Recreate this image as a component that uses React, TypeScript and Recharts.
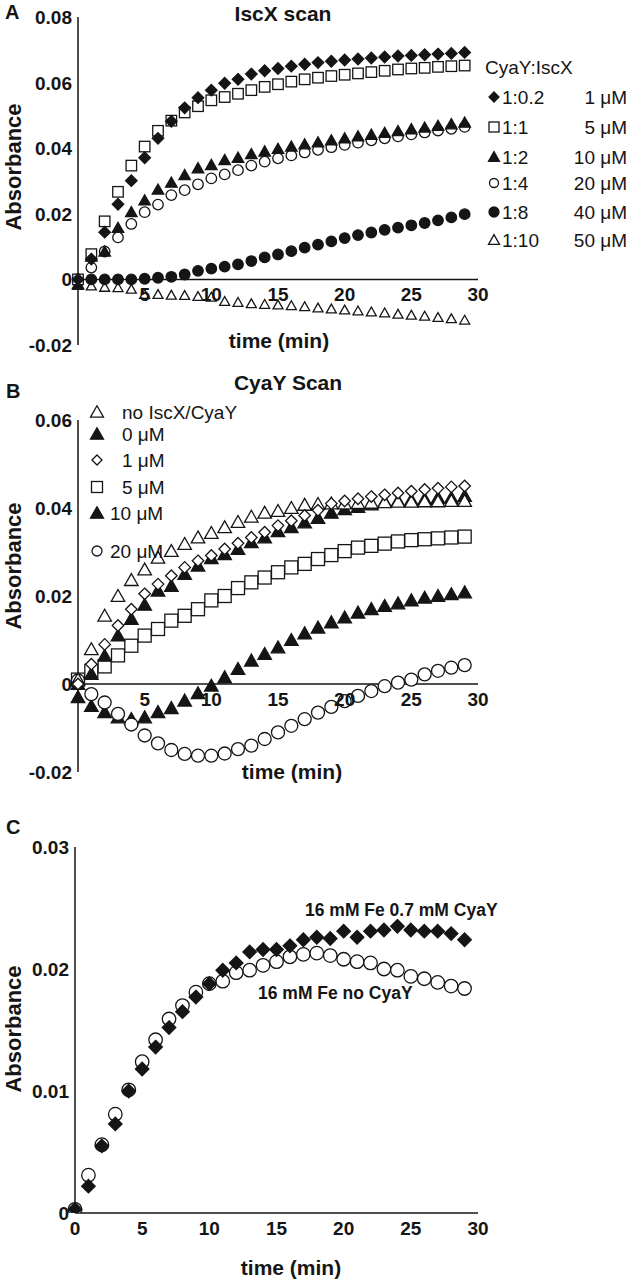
import React from "react";
import { ScatterChart, Scatter, XAxis, YAxis, ReferenceLine } from "recharts";

const FONT = "'Liberation Sans', Arial, Helvetica, sans-serif";
const INK = "#151515";

const minutes = [0, 1, 2, 3, 4, 5, 6, 7, 8, 9, 10, 11, 12, 13, 14, 15, 16, 17, 18, 19, 20, 21, 22, 23, 24, 25, 26, 27, 28, 29];

// ---- A: IscX scan ----
const aTicksY = [-0.02, 0, 0.02, 0.04, 0.06, 0.08];
const abTicksX = [5, 10, 15, 20, 25, 30];
const aRatio02 = [0, 0.0062, 0.0144, 0.0229, 0.0301, 0.0371, 0.043, 0.0482, 0.0523, 0.0554, 0.0577, 0.0598, 0.061, 0.0626, 0.0636, 0.0643, 0.065, 0.0656, 0.0661, 0.0665, 0.0669, 0.0672, 0.0675, 0.0678, 0.0681, 0.0683, 0.0685, 0.0687, 0.0689, 0.0692];
const aRatio1 = [0, 0.0077, 0.0177, 0.0267, 0.0347, 0.0405, 0.0453, 0.0484, 0.0509, 0.0528, 0.0546, 0.0556, 0.0566, 0.0577, 0.0587, 0.0595, 0.0603, 0.061, 0.0615, 0.062, 0.0624, 0.0628, 0.0632, 0.0636, 0.064, 0.0643, 0.0645, 0.0648, 0.065, 0.0652];
const aRatio2 = [-0.0015, 0.007, 0.0085, 0.0157, 0.0205, 0.0241, 0.0274, 0.0295, 0.0318, 0.0339, 0.0349, 0.0364, 0.0371, 0.0382, 0.039, 0.0398, 0.0405, 0.0412, 0.0418, 0.0424, 0.043, 0.0436, 0.0441, 0.0447, 0.0452, 0.0458, 0.0463, 0.0468, 0.0473, 0.0478];
const aRatio4 = [0, 0.0036, 0.0085, 0.0128, 0.0169, 0.0205, 0.0228, 0.0257, 0.0272, 0.029, 0.0308, 0.032, 0.0333, 0.0347, 0.0359, 0.0369, 0.0378, 0.0387, 0.0395, 0.0403, 0.041, 0.0417, 0.0424, 0.043, 0.0436, 0.0442, 0.0448, 0.0454, 0.0459, 0.0465];
const aRatio8 = [0, 0, 0, 0, 0, 0.0002, 0.0005, 0.0008, 0.0015, 0.0026, 0.0033, 0.0039, 0.0046, 0.0056, 0.0067, 0.0076, 0.0086, 0.0097, 0.0106, 0.0116, 0.0126, 0.0135, 0.0143, 0.0151, 0.0158, 0.0165, 0.0172, 0.018, 0.0189, 0.0199];
const aRatio10 = [-0.0018, -0.002, -0.0024, -0.0025, -0.003, -0.0046, -0.0046, -0.0048, -0.0049, -0.0052, -0.0054, -0.0067, -0.007, -0.0074, -0.0076, -0.0078, -0.008, -0.0083, -0.0087, -0.009, -0.0093, -0.0096, -0.0099, -0.0102, -0.0106, -0.0109, -0.0112, -0.0116, -0.012, -0.0124];

// ---- B: CyaY scan ----
const bTicksY = [-0.02, 0, 0.02, 0.04, 0.06];
const bNone = [0.001, 0.0079, 0.0155, 0.02, 0.0236, 0.026, 0.0287, 0.0302, 0.0318, 0.0333, 0.0343, 0.0356, 0.0368, 0.038, 0.0389, 0.0393, 0.04, 0.0407, 0.0409, 0.041, 0.041, 0.0411, 0.0412, 0.0413, 0.0414, 0.0414, 0.0415, 0.0415, 0.0416, 0.0416];
const b0uM = [0, 0.0023, 0.0064, 0.011, 0.0148, 0.018, 0.0212, 0.0223, 0.025, 0.0269, 0.0286, 0.0295, 0.0307, 0.0322, 0.0333, 0.0347, 0.0356, 0.0367, 0.0377, 0.0389, 0.0397, 0.0402, 0.0408, 0.0414, 0.0416, 0.0418, 0.042, 0.0423, 0.0423, 0.0427];
const b1uM = [0, 0.0045, 0.009, 0.0133, 0.017, 0.0205, 0.0227, 0.0246, 0.0265, 0.028, 0.0292, 0.0307, 0.032, 0.0333, 0.0345, 0.036, 0.0371, 0.0383, 0.0395, 0.041, 0.0416, 0.0421, 0.0426, 0.043, 0.0434, 0.0438, 0.0442, 0.0445, 0.0448, 0.045];
const b5uM = [0.001, 0.003, 0.004, 0.0065, 0.0087, 0.011, 0.0125, 0.0144, 0.0155, 0.017, 0.019, 0.02, 0.0218, 0.0231, 0.0242, 0.0254, 0.0265, 0.0273, 0.0284, 0.0293, 0.0302, 0.031, 0.0314, 0.0319, 0.0324, 0.0327, 0.0329, 0.0331, 0.0333, 0.0335];
const b10uM = [-0.003, -0.005, -0.0064, -0.0076, -0.008, -0.0076, -0.0064, -0.0055, -0.0038, -0.0021, -0.0004, 0.0015, 0.0034, 0.0053, 0.0068, 0.0083, 0.01, 0.0115, 0.0128, 0.014, 0.0151, 0.0162, 0.017, 0.0177, 0.0183, 0.019, 0.0196, 0.02, 0.0204, 0.0208];
const b20uM = [0.0008, -0.0023, -0.0042, -0.0068, -0.0092, -0.0117, -0.0135, -0.015, -0.0159, -0.0163, -0.0163, -0.0158, -0.0148, -0.014, -0.0125, -0.011, -0.0095, -0.008, -0.0065, -0.0052, -0.0039, -0.0027, -0.0016, -0.0005, 0.0003, 0.001, 0.0022, 0.003, 0.0037, 0.0043];

// ---- C: Fe with / without CyaY ----
const cTicksY = [0, 0.01, 0.02, 0.03];
const cTicksX = [0, 5, 10, 15, 20, 25, 30];
const cFeCyaY = [0.0003, 0.0022, 0.0055, 0.0073, 0.01, 0.0118, 0.0136, 0.0152, 0.0165, 0.0177, 0.0188, 0.0199, 0.0205, 0.0214, 0.0216, 0.0216, 0.0219, 0.0224, 0.0226, 0.0225, 0.0231, 0.0226, 0.0231, 0.0232, 0.0235, 0.0232, 0.0231, 0.0231, 0.0229, 0.0224];
const cFeOnly = [0.0003, 0.0031, 0.0056, 0.0081, 0.0101, 0.0124, 0.0142, 0.0159, 0.017, 0.0181, 0.0188, 0.019, 0.0197, 0.0199, 0.0203, 0.0206, 0.021, 0.0212, 0.0213, 0.0211, 0.0208, 0.0206, 0.0205, 0.02, 0.0199, 0.0194, 0.0192, 0.0189, 0.0186, 0.0184];

const pts = (vals: number[]) => minutes.map((t, i) => ({ t, v: vals[i] }));

type Kind = "diamond" | "square" | "triangle" | "circle";

function Marker({ cx, cy, kind, size, filled }: { cx: number; cy: number; kind: Kind; size: number; filled: boolean }) {
    const fill = filled ? INK : "#fff";
    const h = size / 2;
    const common = { fill, stroke: INK, strokeWidth: 1.3 };
    if (kind === "diamond")
        return <polygon points={`${cx},${cy - h} ${cx + h},${cy} ${cx},${cy + h} ${cx - h},${cy}`} {...common} />;
    if (kind === "square") return <rect x={cx - h} y={cy - h} width={size} height={size} {...common} />;
    if (kind === "triangle") {
        const th = size * 0.88;
        return <polygon points={`${cx},${cy - th * 0.55} ${cx + h},${cy + th * 0.45} ${cx - h},${cy + th * 0.45}`} {...common} />;
    }
    return <circle cx={cx} cy={cy} r={h} {...common} />;
}

interface SeriesDef {
    name: string;
    vals: number[];
    kind: Kind;
    filled: boolean;
    size: number;
}

interface PanelProps {
    top: number;
    height: number;
    marginTop: number;
    xAxisHeight: number;
    yWidth: number;
    yDomain: [number, number];
    yTicks: number[];
    xTicks: number[];
    zeroLine: boolean;
    series: SeriesDef[];
}

const fmtY = (v: number) => (v === 0 ? "0" : v.toFixed(2));

function Panel(p: PanelProps) {
    const plotH = p.height - p.marginTop - p.xAxisHeight;
    const zeroRel = p.marginTop + (plotH * p.yDomain[1]) / (p.yDomain[1] - p.yDomain[0]);
    const rightEdge = 478;
    return (
        <div style={{ position: "absolute", left: 0, top: p.top }}>
            <ScatterChart
                width={630}
                height={p.height}
                margin={{ top: p.marginTop, right: 630 - rightEdge, bottom: 0, left: 0 }}
            >
                <XAxis
                    type="number"
                    dataKey="t"
                    domain={[0, 30]}
                    ticks={p.xTicks}
                    height={p.xAxisHeight}
                    axisLine={p.zeroLine ? false : { stroke: INK, strokeWidth: 1.5 }}
                    tickLine={false}
                    tickSize={0}
                    interval={0}
                    tick={(t: any) => (
                        <text
                            x={t.x}
                            y={zeroRel + 22}
                            textAnchor="middle"
                            fontFamily={FONT}
                            fontWeight="bold"
                            fontSize={19}
                            fill={INK}
                        >
                            {t.payload.value}
                        </text>
                    )}
                />
                <YAxis
                    type="number"
                    dataKey="v"
                    width={p.yWidth}
                    domain={p.yDomain}
                    ticks={p.yTicks}
                    allowDataOverflow
                    interval={0}
                    axisLine={{ stroke: INK, strokeWidth: 1.5 }}
                    tickLine={false}
                    tickSize={0}
                    tickMargin={6}
                    tick={(t: any) => (
                        <text
                            x={t.x}
                            y={t.y}
                            dy={7}
                            textAnchor="end"
                            fontFamily={FONT}
                            fontWeight="bold"
                            fontSize={19}
                            fill={INK}
                        >
                            {fmtY(t.payload.value)}
                        </text>
                    )}
                />
                {p.zeroLine && <ReferenceLine y={0} stroke={INK} strokeWidth={1.5} />}
                {p.series.map((s) => (
                    <Scatter
                        key={s.name}
                        name={s.name}
                        data={pts(s.vals)}
                        isAnimationActive={false}
                        shape={(m: any) => <Marker cx={m.cx} cy={m.cy} kind={s.kind} size={s.size} filled={s.filled} />}
                    />
                ))}
            </ScatterChart>
        </div>
    );
}

const seriesA: SeriesDef[] = [
    { name: "1:10", vals: aRatio10, kind: "triangle", filled: false, size: 10 },
    { name: "1:8", vals: aRatio8, kind: "circle", filled: true, size: 10.5 },
    { name: "1:4", vals: aRatio4, kind: "circle", filled: false, size: 10.5 },
    { name: "1:2", vals: aRatio2, kind: "triangle", filled: true, size: 11.5 },
    { name: "1:1", vals: aRatio1, kind: "square", filled: false, size: 10.5 },
    { name: "1:0.2", vals: aRatio02, kind: "diamond", filled: true, size: 11.5 },
];

const seriesB: SeriesDef[] = [
    { name: "5 µM", vals: b5uM, kind: "square", filled: false, size: 13 },
    { name: "10 µM", vals: b10uM, kind: "triangle", filled: true, size: 13.5 },
    { name: "20 µM", vals: b20uM, kind: "circle", filled: false, size: 13 },
    { name: "0 µM", vals: b0uM, kind: "triangle", filled: true, size: 13.5 },
    { name: "no IscX/CyaY", vals: bNone, kind: "triangle", filled: false, size: 13.5 },
    { name: "1 µM", vals: b1uM, kind: "diamond", filled: false, size: 11.5 },
];

const seriesC: SeriesDef[] = [
    { name: "16 mM Fe no CyaY", vals: cFeOnly, kind: "circle", filled: false, size: 13.5 },
    { name: "16 mM Fe 0.7 mM CyaY", vals: cFeCyaY, kind: "diamond", filled: true, size: 13.5 },
];

const legendA: { kind: Kind; filled: boolean; size: number; ratio: string; conc: string }[] = [
    { kind: "diamond", filled: true, size: 10, ratio: "1:0.2", conc: "1 μM" },
    { kind: "square", filled: false, size: 10, ratio: "1:1", conc: "5 μM" },
    { kind: "triangle", filled: true, size: 11, ratio: "1:2", conc: "10 μM" },
    { kind: "circle", filled: false, size: 9, ratio: "1:4", conc: "20 μM" },
    { kind: "circle", filled: true, size: 10, ratio: "1:8", conc: "40 μM" },
    { kind: "triangle", filled: false, size: 11, ratio: "1:10", conc: "50 μM" },
];
const legendARows = [97, 127, 157, 183, 212, 240];

const legendB: { kind: Kind; filled: boolean; size: number; label: string; tx: number; y: number }[] = [
    { kind: "triangle", filled: false, size: 13, label: "no IscX/CyaY", tx: 122, y: 412 },
    { kind: "triangle", filled: true, size: 13, label: "0 μM", tx: 122, y: 434 },
    { kind: "diamond", filled: false, size: 10, label: "1 μM", tx: 122, y: 460 },
    { kind: "square", filled: false, size: 11, label: "5 μM", tx: 122, y: 487 },
    { kind: "triangle", filled: true, size: 13, label: "10 μM", tx: 110, y: 513 },
    { kind: "circle", filled: false, size: 10, label: "20 μM", tx: 110, y: 551 },
];

const T = (props: { x: number; y: number; size: number; bold?: boolean; anchor?: string; rotate?: boolean; children: React.ReactNode }) => (
    <text
        x={props.x}
        y={props.y}
        fontFamily={FONT}
        fontSize={props.size}
        fontWeight={props.bold ? "bold" : "normal"}
        fill={INK}
        textAnchor={props.anchor ?? "start"}
        dominantBaseline="central"
        transform={props.rotate ? `rotate(-90 ${props.x} ${props.y})` : undefined}
    >
        {props.children}
    </text>
);

export default function App() {
    return (
        <div style={{ position: "absolute", left: 0, top: 0, width: 630, height: 1282, background: "#fff" }}>
            <Panel
                top={0}
                height={360}
                marginTop={17}
                xAxisHeight={15}
                yWidth={78}
                yDomain={[-0.02, 0.08]}
                yTicks={aTicksY}
                xTicks={abTicksX}
                zeroLine
                series={seriesA}
            />
            <Panel
                top={360}
                height={440}
                marginTop={60}
                xAxisHeight={28}
                yWidth={78}
                yDomain={[-0.02, 0.06]}
                yTicks={bTicksY}
                xTicks={abTicksX}
                zeroLine
                series={seriesB}
            />
            <Panel
                top={800}
                height={482}
                marginTop={47}
                xAxisHeight={69}
                yWidth={75}
                yDomain={[0, 0.03]}
                yTicks={cTicksY}
                xTicks={cTicksX}
                zeroLine={false}
                series={seriesC}
            />
            <svg width={630} height={1282} style={{ position: "absolute", left: 0, top: 0, pointerEvents: "none" }}>
                {/* panel A */}
                <T x={5} y={12} size={20} bold>A</T>
                <T x={283} y={13} size={21} bold anchor="middle">IscX scan</T>
                <T x={13} y={167} size={22} bold anchor="middle" rotate>Absorbance</T>
                <T x={279} y={340} size={21} bold anchor="middle">time (min)</T>
                <T x={485} y={67} size={19}>CyaY:IscX</T>
                {legendA.map((r, i) => (
                    <g key={r.ratio}>
                        <Marker cx={494} cy={legendARows[i]} kind={r.kind} size={r.size} filled={r.filled} />
                        <T x={502} y={legendARows[i]} size={19}>{r.ratio}</T>
                        <T x={627} y={legendARows[i]} size={19} anchor="end">{r.conc}</T>
                    </g>
                ))}
                {/* panel B */}
                <T x={6} y={391} size={20} bold>B</T>
                <T x={288} y={382} size={21} bold anchor="middle">CyaY Scan</T>
                <T x={13} y={566} size={22} bold anchor="middle" rotate>Absorbance</T>
                <T x={292} y={771} size={21} bold anchor="middle">time (min)</T>
                {legendB.map((r) => (
                    <g key={r.label}>
                        <Marker cx={97} cy={r.y} kind={r.kind} size={r.size} filled={r.filled} />
                        <T x={r.tx} y={r.y} size={19}>{r.label}</T>
                    </g>
                ))}
                {/* panel C */}
                <T x={6} y={827} size={20} bold>C</T>
                <T x={13} y={1029} size={22} bold anchor="middle" rotate>Absorbance</T>
                <T x={291} y={1267} size={21} bold anchor="middle">time (min)</T>
                <T x={305} y={910} size={17.5} bold>16 mM Fe 0.7 mM CyaY</T>
                <T x={258} y={993} size={17.5} bold>16 mM Fe no CyaY</T>
            </svg>
        </div>
    );
}
